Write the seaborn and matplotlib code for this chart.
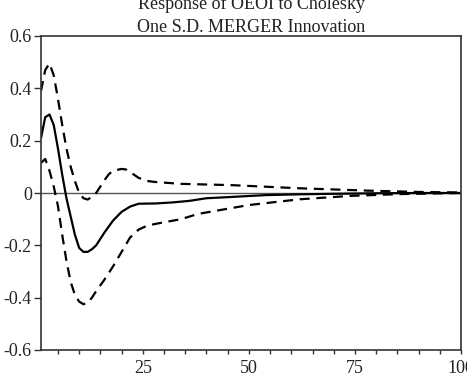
import matplotlib
matplotlib.use("Agg")
import numpy as np
import pandas as pd
import seaborn as sns
from matplotlib import pyplot as plt
from matplotlib.ticker import MultipleLocator

# impulse response of OEOI to a one S.D. MERGER shock
resp_period = [1, 2, 3, 4, 5, 6, 7, 8, 9, 10, 11, 12, 13, 14, 16, 18, 20, 22,
               24, 28, 32, 36, 40, 46, 54, 62, 70, 80, 90, 100]
resp_value = [0.21, 0.29, 0.30, 0.26, 0.17, 0.07, -0.02, -0.09, -0.16, -0.21,
              -0.225, -0.225, -0.215, -0.20, -0.15, -0.105, -0.072, -0.052,
              -0.041, -0.040, -0.036, -0.030, -0.020, -0.015, -0.008, -0.005,
              -0.003, -0.001, 0.0, 0.0]

# +/- 2 S.E. bands
upper_period = [1, 2, 3, 4, 5, 6, 7, 8, 9, 10, 11, 12, 13, 14, 15, 16, 17, 18,
                20, 21, 22, 24, 26, 28, 34, 46, 62, 78, 90, 100]
upper_value = [0.39, 0.47, 0.495, 0.45, 0.36, 0.26, 0.17, 0.10, 0.045, 0.0,
               -0.02, -0.025, -0.015, 0.0, 0.025, 0.05, 0.072, 0.085, 0.092,
               0.09, 0.08, 0.058, 0.046, 0.042, 0.035, 0.03, 0.018, 0.009,
               0.004, 0.002]

lower_period = [1, 2, 3, 4, 5, 6, 7, 8, 9, 10, 11, 12, 13, 14, 16, 18, 20, 22,
                24, 26, 28, 34, 38, 50, 62, 74, 86, 100]
lower_value = [0.115, 0.13, 0.085, 0.025, -0.05, -0.16, -0.26, -0.34, -0.39,
               -0.415, -0.425, -0.42, -0.40, -0.375, -0.33, -0.28, -0.225,
               -0.17, -0.14, -0.125, -0.118, -0.10, -0.08, -0.046, -0.024,
               -0.011, -0.004, 0.0]

ytick_values = [0.6, 0.4, 0.2, 0.0, -0.2, -0.4, -0.6]
ytick_labels = ["0.6", "0.4", "0.2", "0", "-0.2", "-0.4", "-0.6"]
xtick_values = [25, 50, 75, 100]

sns.set_style("white")
plt.rcParams["font.family"] = ["Liberation Serif", "DejaVu Serif"]

fig = plt.figure(figsize=(4.67, 3.82), dpi=100)
ax = fig.add_axes([41 / 467, 1 - 350 / 382, 420 / 467, 314 / 382])

ax.axhline(0, color="#555555", lw=1.0, zorder=1)
sns.lineplot(x=resp_period, y=resp_value, ax=ax, color="black", lw=1.6)
sns.lineplot(x=upper_period, y=upper_value, ax=ax, color="black", lw=1.6,
             linestyle=(0, (4.5, 3)))
sns.lineplot(x=lower_period, y=lower_value, ax=ax, color="black", lw=1.6,
             linestyle=(0, (4.5, 3)))

ax.set_xlim(1, 100)
ax.set_ylim(-0.6, 0.6)
ax.set_yticks(ytick_values)
ax.set_yticklabels(ytick_labels)
ax.set_xticks(xtick_values)
ax.set_xticklabels([str(v) for v in xtick_values])
ax.xaxis.set_minor_locator(MultipleLocator(5))

for side in ["left", "right", "top", "bottom"]:
    ax.spines[side].set_visible(True)
    ax.spines[side].set_color("#333333")
    ax.spines[side].set_linewidth(1.2)

ax.tick_params(axis="y", which="major", direction="out", length=5, width=1,
               color="#333333", pad=1.5, labelsize=13, left=True,
               labelcolor="#222222")
ax.tick_params(axis="x", which="both", direction="out", length=3, width=1,
               color="#333333", pad=4.5, labelsize=13, bottom=True,
               labelcolor="#222222")

ax.set_title("Response of OEOI to Cholesky\nOne S.D. MERGER Innovation",
             fontsize=13, pad=1, linespacing=1.45, color="#222222")
ax.set_xlabel("")
ax.set_ylabel("")

fig.savefig("out.png", dpi=100)
